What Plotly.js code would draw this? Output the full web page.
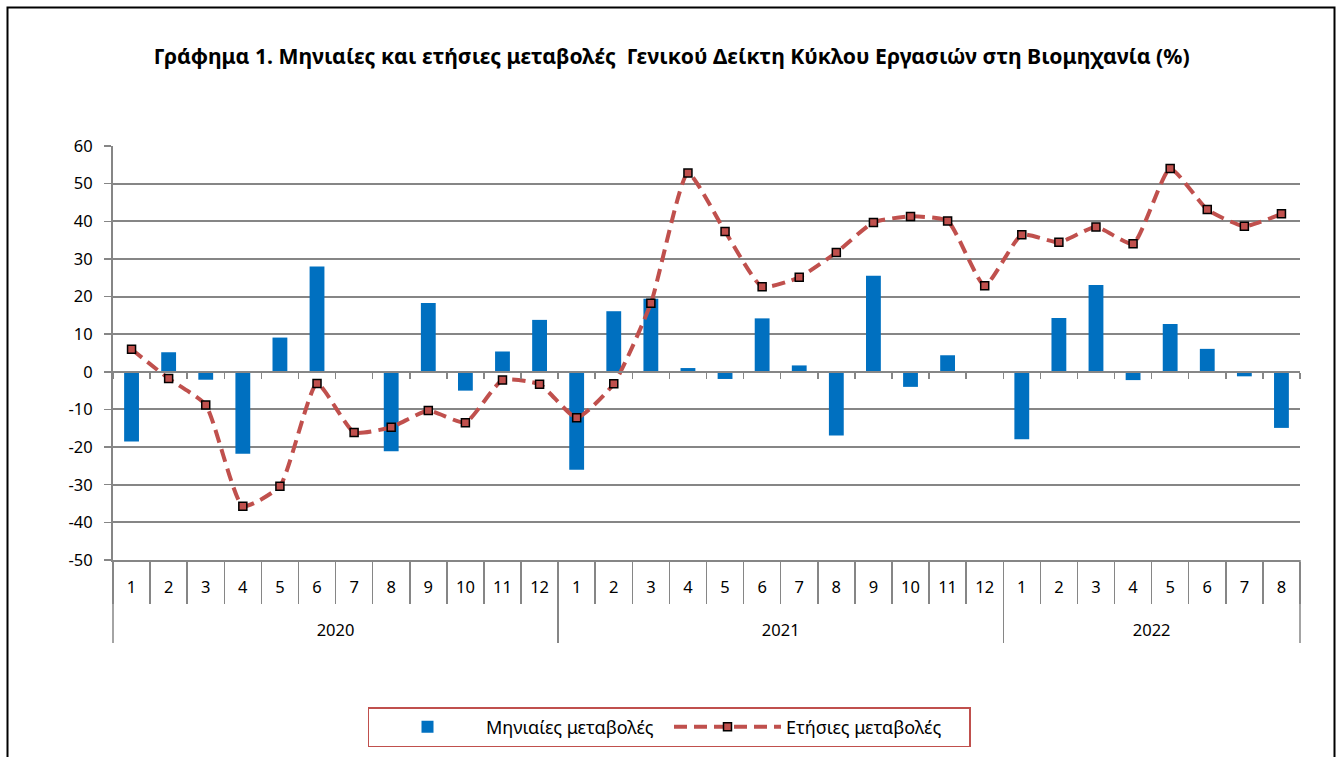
<!DOCTYPE html>
<html>
<head>
<meta charset="utf-8">
<script src="https://cdn.plot.ly/plotly-3.0.1.min.js"></script>
<style>
  html, body { margin: 0; padding: 0; background: #ffffff; }
  #chart { width: 1338px; height: 757px; }
</style>
</head>
<body>
<div id="chart"></div>
<script>
// ---- data ----
const yearLabels = [
  '2020','2020','2020','2020','2020','2020','2020','2020','2020','2020','2020','2020',
  '2021','2021','2021','2021','2021','2021','2021','2021','2021','2021','2021','2021',
  '2022','2022','2022','2022','2022','2022','2022','2022'
];
const monthLabels = [
  '1','2','3','4','5','6','7','8','9','10','11','12',
  '1','2','3','4','5','6','7','8','9','10','11','12',
  '1','2','3','4','5','6','7','8'
];
const monthlyChange = [
  -18.5, 5.2, -2.1, -21.8, 9.1, 28.0, -0.3, -21.1, 18.3, -5.0, 5.4, 13.8,
  -26.0, 16.1, 19.4, 1.0, -1.9, 14.2, 1.7, -16.9, 25.5, -4.0, 4.4, 0.0,
  -17.9, 14.3, 23.1, -2.2, 12.7, 6.1, -1.2, -14.9
];
const annualChange = [
  6.0, -1.8, -8.8, -35.7, -30.4, -3.1, -16.1, -14.7, -10.3, -13.5, -2.2, -3.3,
  -12.2, -3.2, 18.2, 52.8, 37.3, 22.6, 25.1, 31.7, 39.7, 41.3, 40.1, 22.9,
  36.4, 34.4, 38.5, 34.0, 54.0, 43.1, 38.7, 42.0
];
const yTickVals = [-50, -40, -30, -20, -10, 0, 10, 20, 30, 40, 50, 60];
const yTickText = ['-50', '-40', '-30', '-20', '-10', '0', '10', '20', '30', '40', '50', '60'];
const seriesNames = ['Μηνιαίες μεταβολές', 'Ετήσιες μεταβολές'];
const chartTitle = 'Γράφημα 1. Μηνιαίες και ετήσιες μεταβολές\u00a0 Γενικού Δείκτη Κύκλου Εργασιών στη Βιομηχανία (%)';

// ---- derived category keys / year groups ----
const catKeys = yearLabels.map((y, i) => y + '-' + monthLabels[i]);
const nCats = catKeys.length;
const yearNames = [];
const yearStart = [];
const yearEnd = [];
yearLabels.forEach((y, i) => {
  if (yearNames.length === 0 || yearNames[yearNames.length - 1] !== y) {
    yearNames.push(y); yearStart.push(i); yearEnd.push(i);
  } else {
    yearEnd[yearEnd.length - 1] = i;
  }
});
const yearCenters = yearStart.map((s, k) => (s + yearEnd[k]) / 2);
const yearBounds = yearStart.map(s => s - 0.5).concat([nCats - 0.5]);

// ---- geometry ----
const W = 1338, H = 757;
const PLOT_L = 113, PLOT_R = 1300, PLOT_T = 146, PLOT_B = 560, TABLE_B = 643;
const paperH = TABLE_B - PLOT_T;
const yDomLo = (TABLE_B - PLOT_B) / paperH;
const yMin = -50, yMax = 60;
const zeroPos = yDomLo + (1 - yDomLo) * (0 - yMin) / (yMax - yMin);

// ---- styling ----
const FONT = 'Noto Sans, Open Sans, DejaVu Sans, sans-serif';
const GRID = '#868686';
const TICKFONT = { family: FONT, size: 16.5, color: '#000000' };

// empty helper traces so that the auxiliary axes get a subplot and are drawn
const helper = axisId => ({
  type: 'scatter', mode: 'markers', x: [], y: [],
  xaxis: axisId, yaxis: 'y', showlegend: false, hoverinfo: 'skip'
});

const traces = [
  {
    type: 'bar',
    name: seriesNames[0],
    x: catKeys,
    y: monthlyChange,
    marker: { color: '#0070C0' },
    hoverinfo: 'y'
  },
  {
    type: 'scatter',
    mode: 'lines+markers',
    name: seriesNames[1],
    x: catKeys,
    y: annualChange,
    line: { color: '#C0504D', width: 4, dash: '13px,7px', shape: 'spline', smoothing: 0.5 },
    marker: { symbol: 'square', size: 8, color: '#C0504D', line: { color: '#000000', width: 1.5 } },
    hoverinfo: 'y'
  },
  helper('x2'),
  helper('x3'),
  helper('x4')
];

const freeAxisBase = {
  overlaying: 'x',
  anchor: 'free',
  type: 'linear',
  range: [-0.5, nCats - 0.5],
  autorange: false,
  showgrid: false,
  zeroline: false,
  fixedrange: true
};

// frame of the label table: left and right outer edges (paper coordinates)
const tableEdge = xPaper => ({
  type: 'line', xref: 'paper', yref: 'paper',
  x0: xPaper, x1: xPaper, y0: 0, y1: yDomLo,
  line: { color: GRID, width: 1.5 },
  layer: 'above'
});

const layout = {
  width: W,
  height: H,
  paper_bgcolor: '#ffffff',
  plot_bgcolor: '#ffffff',
  font: { family: FONT, size: 16, color: '#000000' },
  margin: { l: PLOT_L, r: W - PLOT_R, t: PLOT_T, b: H - TABLE_B, pad: 0 },
  title: {
    text: '<b>' + chartTitle + '</b>',
    font: { family: FONT, size: 21.2, color: '#000000' },
    xref: 'container', x: 0.502, xanchor: 'center',
    yref: 'container', y: 1 - 57 / H, yanchor: 'middle'
  },
  bargap: 0.6,
  showlegend: true,
  legend: {
    orientation: 'h',
    xref: 'container', x: 0.5, xanchor: 'center',
    yref: 'container', y: 1 - 727 / H, yanchor: 'middle',
    bordercolor: '#C0504D', borderwidth: 1.5,
    bgcolor: '#ffffff',
    font: { family: FONT, size: 18, color: '#000000' },
    entrywidth: 178,
    itemwidth: 107,
    traceorder: 'normal'
  },
  // month level (category axis on the bottom of the plot)
  xaxis: {
    type: 'category',
    range: [-0.5, nCats - 0.5],
    tickmode: 'array',
    tickvals: catKeys,
    ticktext: monthLabels,
    tickson: 'boundaries',
    ticks: 'outside',
    ticklen: 42,
    tickwidth: 1.5,
    tickcolor: GRID,
    ticklabelstandoff: 12,
    showline: true,
    linecolor: GRID,
    linewidth: 1.5,
    showgrid: false,
    zeroline: false,
    tickfont: TICKFONT,
    fixedrange: true
  },
  // horizontal axis line at zero with short boundary ticks
  xaxis2: Object.assign({}, freeAxisBase, {
    position: zeroPos,
    tickmode: 'linear',
    tick0: -0.5,
    dtick: 1,
    ticks: 'outside',
    ticklen: 6,
    tickwidth: 1.5,
    tickcolor: GRID,
    showline: true,
    linecolor: GRID,
    linewidth: 2,
    showticklabels: false
  }),
  // year dividers
  xaxis3: Object.assign({}, freeAxisBase, {
    position: 0,
    tickmode: 'array',
    tickvals: yearBounds,
    ticks: 'inside',
    ticklen: TABLE_B - PLOT_B,
    tickwidth: 1.5,
    tickcolor: GRID,
    showline: false,
    showticklabels: false
  }),
  // year labels
  xaxis4: Object.assign({}, freeAxisBase, {
    position: 0,
    tickmode: 'array',
    tickvals: yearCenters,
    ticktext: yearNames,
    ticks: '',
    ticklabelposition: 'inside',
    ticklabelstandoff: 1,
    showline: false,
    showticklabels: true,
    tickfont: TICKFONT
  }),
  yaxis: {
    domain: [yDomLo, 1],
    range: [yMin, yMax],
    tickmode: 'array',
    tickvals: yTickVals,
    ticktext: yTickText,
    ticks: 'outside',
    ticklen: 7,
    tickwidth: 1.5,
    tickcolor: GRID,
    ticklabelstandoff: 8,
    showgrid: true,
    gridcolor: GRID,
    gridwidth: 2,
    showline: true,
    linecolor: GRID,
    linewidth: 2,
    zeroline: false,
    tickfont: TICKFONT,
    fixedrange: true
  },
  shapes: [
    {
      type: 'rect', xref: 'paper', yref: 'paper',
      x0: (7.5 - PLOT_L) / (PLOT_R - PLOT_L), x1: (1334.5 - PLOT_L) / (PLOT_R - PLOT_L),
      y0: -1, y1: (TABLE_B - 7.5) / paperH,
      line: { color: '#000000', width: 2 },
      fillcolor: 'rgba(0,0,0,0)',
      layer: 'below'
    },
    tableEdge(0),
    tableEdge(1)
  ]
};

Plotly.newPlot('chart', traces, layout, { displayModeBar: false, staticPlot: true });
</script>
</body>
</html>
